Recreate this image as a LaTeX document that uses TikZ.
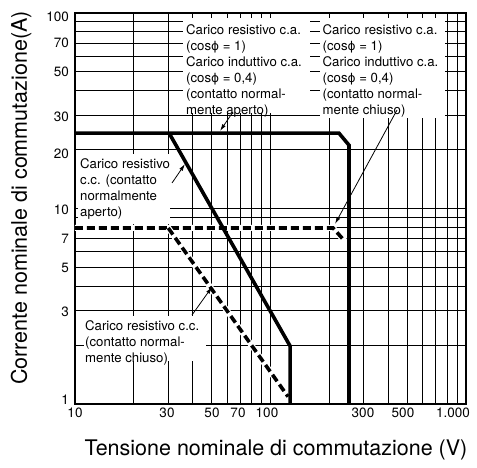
\documentclass[tikz,border=0pt]{standalone}
\usepackage{fontspec}
\setmainfont{TeX Gyre Heros}
\newfontfamily\phifont[Scale=0.92]{DejaVu Sans}
\usetikzlibrary{arrows.meta}
\newcommand{\cphi}{cos{\phifont ϕ}}
\begin{document}
\begin{tikzpicture}[x=1pt,y=-1pt,
  declare function={lx(\v)=log10(\v)-1; ly(\i)=log10(\i);},
  gridline/.style={line width=0.9pt},
  frameline/.style={line width=1.6pt},
  curve/.style={line width=3.6pt},
  dcurve/.style={line width=3.6pt, dash pattern=on 8pt off 4pt},
  halo/.style={white, line width=6pt},
  leader/.style={line width=0.8pt, -{Latex[length=7pt,width=4pt]}},
  boxtext/.style={anchor=north west, inner sep=0pt, align=left, font=\fontsize{13.2}{16}\selectfont},
  ticklab/.style={inner sep=0pt, font=\fontsize{13.5}{16}\selectfont},
  axtitle/.style={inner sep=0pt, font=\fontsize{21.5}{24}\selectfont}]
\useasboundingbox (0,0) rectangle (477,468);
\fill[white] (0,0) rectangle (477,468);
% grid
\begin{scope}[x=195.5pt, y=195.5pt, shift={(75pt,-404pt)}]
  \foreach \v in {20,30,40,50,60,70,80,90,100,200,300,400,500,600,700,800,900}
    \draw[gridline] ({lx(\v)},0) -- ({lx(\v)},2);
  \foreach \i in {2,3,4,5,6,7,8,9,10,20,30,40,50,60,70,80,90}
    \draw[gridline] (0,{ly(\i)}) -- (2,{ly(\i)});
\end{scope}
% white label areas
\fill[white] (183,18) rectangle (310,113);
\fill[white] (320,18) rectangle (445,118);
\fill[white] (78,154) rectangle (170,224);
\fill[white] (84,316) rectangle (206,361);
% curves
\begin{scope}[x=195.5pt, y=195.5pt, shift={(75pt,-404pt)}]
  \draw[frameline] (0,0) rectangle (2,2);
  \draw[halo] ({lx(10)},{ly(7.95)}) -- ({lx(209)},{ly(7.95)}) -- ({lx(240)},{ly(6.8)});
  \draw[dcurve] ({lx(10)},{ly(7.95)}) -- ({lx(209)},{ly(7.95)}) -- ({lx(240)},{ly(6.8)});
  \draw[halo] ({lx(30)},{ly(7.95)}) -- ({lx(123)},{ly(1.09)});
  \draw[dcurve] ({lx(30)},{ly(7.95)}) -- ({lx(123)},{ly(1.09)});
  \draw[curve] ({lx(10)},{ly(24.3)}) -- ({lx(224)},{ly(24.3)}) -- ({lx(252)},{ly(21.1)}) -- ({lx(252)},{ly(1)});
  \draw[curve] ({lx(30.3)},{ly(24.3)}) -- ({lx(126)},{ly(1.98)}) -- ({lx(126)},{ly(1)});
\end{scope}
% label texts
\node[boxtext] (ta) at (186,24) {Carico resistivo c.a.\\(\cphi{} = 1)\\Carico induttivo c.a.\\(\cphi{} = 0,4)\\(contatto normal-\\mente aperto)};
\node[boxtext] (tb) at (322.5,24) {Carico resistivo c.a.\\(\cphi{} = 1)\\Carico induttivo c.a.\\(\cphi{} = 0,4)\\(contatto normal-\\mente chiuso)};
\node[boxtext] (tc) at (80,158) {Carico resistivo\\c.c. (contatto\\normalmente\\aperto)};
\node[boxtext] (td) at (85,320) {Carico resistivo c.c.\\(contatto normal-\\mente chiuso)};
% leaders
\coordinate (a1s) at (233,112); \coordinate (a1e) at (220,131);
\coordinate (a2s) at (172,183); \coordinate (a2e) at (185,164);
\coordinate (a3s) at (397,110); \coordinate (a3e) at (335,224);
\coordinate (a4s) at (192,315); \coordinate (a4e) at (212,287);
\draw[leader] (a1s) -- (a1e);
\draw[leader] (a2s) -- (a2e);
\draw[leader] (a3s) -- (a3e);
\draw[leader] (a4s) -- (a4e);
% tick labels
\foreach \lab/\yy in {100/17, 70/43, 50/72, 30/117, 20/154, 10/210, 7/239, 5/268, 3/312, 1/400}
  \node[ticklab, anchor=east] (yl\lab) at (69,\yy) {\lab};
\foreach \lab/\xx in {10/75, 30/167, 50/212, 70/238, 100/267, 300/363, 500/403}
  \node[ticklab] (xl\lab) at (\xx,413) {\lab};
\node[ticklab] (xl1000) at (453,413) {1.000};
% axis titles
\node[axtitle, rotate=90] (ytitle) at (21,198) {Corrente nominale di commutazione(A)};
\node[axtitle] (xtitle) at (276,450) {Tensione nominale di commutazione (V)};
\end{tikzpicture}
\end{document}
